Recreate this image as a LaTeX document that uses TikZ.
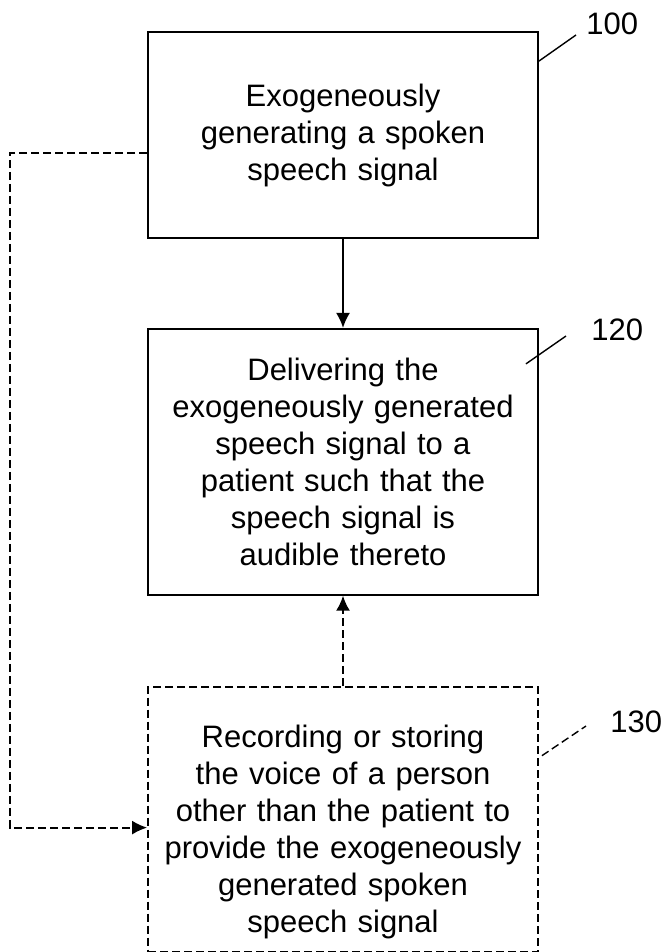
\documentclass[tikz,border=0pt]{standalone}
\usepackage{fontspec}
\setmainfont{Liberation Sans}
\usetikzlibrary{positioning}
\usetikzlibrary{arrows.meta}

\begin{document}
\begin{tikzpicture}
[auto,
block/.style ={rectangle, draw, line width=0.9pt,
text width=183pt, inner xsep=6pt, align=center,
font=\fontsize{15.5}{18.5}\selectfont},
blockD/.style ={block, dash pattern=on 4pt off 2pt},
line/.style ={draw, line width=0.9pt, -{Latex[length=7.5pt,width=7pt]}},
lineD/.style ={line, dash pattern=on 4pt off 2pt},
tag/.style ={inner sep=0pt, anchor=base west,
font=\fontsize{15.5}{18.5}\selectfont},
leader/.style ={draw, line width=0.7pt}]
\useasboundingbox (0,0) rectangle (332pt,-476pt);
% the three steps, top to bottom
\node [block, minimum height=103pt] (gen) at (171.5pt,-67.5pt)
{Exogeneously\\ generating a spoken\\ speech signal};
\node [block, minimum height=133pt, below=44.5pt of gen] (deliver)
{Delivering the\\ exogeneously generated\\ speech signal to a\\ patient such that the\\ speech signal is\\ audible thereto};
\node [blockD, minimum height=132.5pt, below=45pt of deliver] (record)
{\rule{0pt}{24.5pt}Recording or storing\\ the voice of a person\\ other than the patient to\\ provide the exogeneously\\ generated spoken\\ speech signal};
% reference numerals
\node [tag] (n100) at (293pt,-17.5pt) {100};
\node [tag] (n120) at (295.5pt,-170pt) {120};
\node [tag] (n130) at (305pt,-366pt) {130};
\coordinate (loop) at (5pt,0);
\coordinate (recin) at ([yshift=-4.25pt]record.west);
\begin{scope}[every path/.style=line]
\path (gen) -- (deliver);
\path [lineD] (record) -- (deliver);
\path [lineD] ([yshift=-9pt]gen.west) -| (loop |- recin) -- (recin);
\end{scope}
\path [leader] ([yshift=-15pt]gen.north east) -- ([xshift=-5pt]n100.base west);
\path [leader] ([xshift=-6.5pt,yshift=-18pt]deliver.north east) -- ([xshift=-12.5pt,yshift=2pt]n120.base west);
\path [leader, dash pattern=on 4pt off 2pt] ([xshift=1.5pt,yshift=-35pt]record.north east) -- ([xshift=-12pt,yshift=3pt]n130.base west);
\end{tikzpicture}
\end{document}
